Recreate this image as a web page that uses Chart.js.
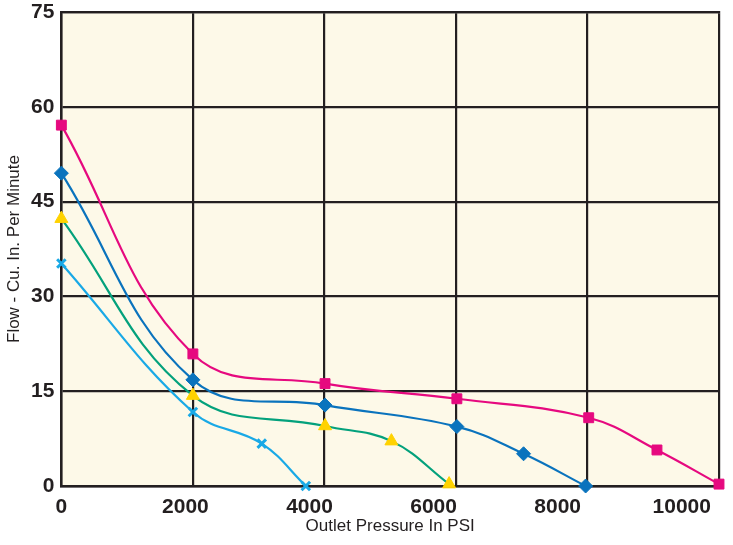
<!DOCTYPE html>
<html lang="en">
<head>
  <meta charset="UTF-8" />
  <title>Flow vs Outlet Pressure</title>
  <script src="https://cdn.jsdelivr.net/npm/chart.js"></script>
  <style>
    html, body { margin: 0; padding: 0; background: #ffffff; }
    .wrap { width: 733px; height: 545px; }
  </style>
</head>
<body>
  <div class="wrap"><canvas id="flowChart"></canvas></div>

  <script>
    // x ticks shown on the axis, grid lines are spaced differently in the original
    const xTickLabels = [0, 2000, 4000, 6000, 8000, 10000];
    const xGridLines = [0, 2120, 4240, 6360, 8480, 10600];
    const yTicks = [0, 15, 30, 45, 60, 75];

    const pinkX = [0, 2120, 4250, 6375, 8500, 9600, 10600];
    const pinkY = [57.1, 20.9, 16.2, 13.8, 10.8, 5.7, 0.3];

    const blueX = [0, 2120, 4250, 6375, 7450, 8450];
    const blueY = [49.5, 16.8, 12.8, 9.4, 5.1, 0];

    const greenX = [0, 2120, 4250, 5320, 6250];
    const greenY = [42.3, 14.3, 9.5, 7.1, 0.3];

    const cyanX = [0, 2120, 3230, 3940];
    const cyanY = [35.2, 11.7, 6.7, 0];

    const ink = '#231f20';
    const tickFont = { family: "'Liberation Sans', Arial, sans-serif", size: 21, weight: 'bold', lineHeight: 1 };
    const titleFont = { family: "'Liberation Sans', Arial, sans-serif", size: 17, lineHeight: 1 };

    function pts(xs, ys) {
      return xs.map((x, i) => ({ x: x, y: ys[i] }));
    }

    const plotBg = {
      id: 'plotBg',
      beforeDraw(chart) {
        const a = chart.chartArea;
        const c = chart.ctx;
        c.save();
        c.fillStyle = '#fdf9e8';
        c.fillRect(a.left, a.top, a.right - a.left, a.bottom - a.top);
        c.restore();
      }
    };

    function series(xs, ys, line, mark, style, r) {
      return {
        data: pts(xs, ys),
        borderColor: line,
        borderWidth: 2.2,
        backgroundColor: mark,
        pointBackgroundColor: mark,
        pointBorderColor: mark,
        pointBorderWidth: style === 'crossRot' ? 3 : 1,
        pointStyle: style,
        pointRadius: r,
        tension: 0.4,
        clip: false
      };
    }

    new Chart(document.getElementById('flowChart'), {
      type: 'line',
      data: {
        datasets: [
          series(pinkX, pinkY, '#e6097f', '#e6097f', 'rect', 7),
          series(blueX, blueY, '#0a73bd', '#0a73bd', 'rectRot', 7),
          series(greenX, greenY, '#03a17c', '#ffd200', 'triangle', 7.5),
          series(cyanX, cyanY, '#19a9e6', '#19a9e6', 'crossRot', 6)
        ]
      },
      options: {
        responsive: true,
        maintainAspectRatio: false,
        animation: false,
        layout: { padding: { top: 12, right: 14, left: 0, bottom: 10 } },
        plugins: { legend: { display: false }, tooltip: { enabled: false } },
        scales: {
          xGrid: {
            type: 'linear',
            position: 'top',
            min: 0,
            max: 10600,
            afterBuildTicks: (axis) => { axis.ticks = xGridLines.map(v => ({ value: v })); },
            ticks: { display: false },
            grid: { color: ink, lineWidth: 2.2, drawTicks: false },
            border: { color: ink, width: 2.2 }
          },
          x: {
            type: 'linear',
            position: 'bottom',
            min: 0,
            max: 10600,
            afterBuildTicks: (axis) => { axis.ticks = xTickLabels.map(v => ({ value: v })); },
            ticks: { color: ink, font: tickFont, padding: 3, maxRotation: 0, callback: (v) => String(v) },
            grid: { display: false },
            border: { color: ink, width: 2.5 },
            title: { display: true, text: 'Outlet Pressure In PSI', color: ink, font: titleFont, padding: { top: -3, bottom: 0 } }
          },
          y: {
            min: 0,
            max: 75,
            afterBuildTicks: (axis) => { axis.ticks = yTicks.map(v => ({ value: v })); },
            afterFit: (axis) => { axis.paddingTop = 0; },
            ticks: { color: ink, font: tickFont, padding: 7 },
            grid: { color: ink, lineWidth: 2.2, drawTicks: false },
            border: { color: ink, width: 2.5 },
            title: { display: true, text: 'Flow - Cu. In. Per Minute', color: ink, font: titleFont, padding: { top: 6, bottom: 1 } }
          }
        }
      },
      plugins: [plotBg]
    });
  </script>
</body>
</html>
